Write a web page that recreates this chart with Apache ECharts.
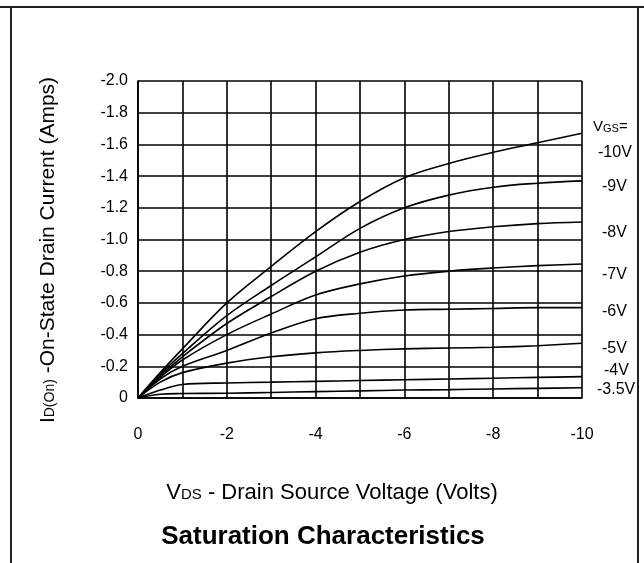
<!DOCTYPE html>
<html>
<head>
<meta charset="utf-8">
<script src="https://cdn.jsdelivr.net/npm/echarts@6/dist/echarts.min.js"></script>
<style>
html,body{margin:0;padding:0;background:#fff;}
#c{width:644px;height:563px;}
</style>
</head>
<body>
<div id="c"></div>
<script>
// Drain-source voltage samples (V)
var vds = [0, -0.5, -1, -2, -3, -4, -5, -6, -7, -8, -9, -10];
// Drain current (A) for each gate voltage
var id10  = [0, -0.16, -0.31, -0.60, -0.83, -1.05, -1.24, -1.39, -1.48, -1.55, -1.61, -1.67];
var id9   = [0, -0.15, -0.28, -0.52, -0.71, -0.89, -1.07, -1.20, -1.28, -1.33, -1.355, -1.37];
var id8   = [0, -0.14, -0.26, -0.47, -0.64, -0.80, -0.92, -1.00, -1.05, -1.08, -1.10, -1.11];
var id7   = [0, -0.13, -0.24, -0.40, -0.53, -0.65, -0.72, -0.77, -0.80, -0.82, -0.835, -0.845];
var id6   = [0, -0.12, -0.20, -0.30, -0.41, -0.50, -0.535, -0.555, -0.56, -0.565, -0.57, -0.57];
var id5   = [0, -0.10, -0.16, -0.22, -0.26, -0.285, -0.30, -0.31, -0.315, -0.32, -0.33, -0.345];
var id4   = [0, -0.05, -0.085, -0.095, -0.10, -0.105, -0.11, -0.115, -0.12, -0.125, -0.13, -0.135];
var id35  = [0, -0.024, -0.028, -0.03, -0.035, -0.04, -0.045, -0.05, -0.053, -0.057, -0.061, -0.065];
var curves = [id10, id9, id8, id7, id6, id5, id4, id35];
var curveNames = ['-10V', '-9V', '-8V', '-7V', '-6V', '-5V', '-4V', '-3.5V'];
var legendHead = 'V{s|GS}=';
var xTitle = 'V{s|DS} - Drain Source Voltage (Volts)';
var yTitle = 'I{s|D(On)} -On-State Drain Current (Amps)';
var chartTitle = 'Saturation Characteristics';

// label layout (pixel positions of the right-hand annotations)
var labelPos = [[598,153],[602,187],[602,233],[602,275],[602,312],[602,349],[604,371],[597,390]];

var FONT = '"Liberation Sans", Arial, sans-serif';
var chart = echarts.init(document.getElementById('c'), null, {renderer:'canvas'});

var series = curves.map(function (arr, k) {
  return {
    name: curveNames[k],
    type: 'line',
    smooth: 0.35,
    showSymbol: false,
    silent: true,
    lineStyle: {color: '#000', width: 1.6},
    data: vds.map(function (v, i) { return [v, arr[i]]; })
  };
});

var graphics = [
  {type:'line', shape:{x1:0,y1:7,x2:644,y2:7}, style:{stroke:'#222', lineWidth:2}},
  {type:'line', shape:{x1:11,y1:7,x2:11,y2:563}, style:{stroke:'#222', lineWidth:2}},
  {type:'line', shape:{x1:638,y1:7,x2:638,y2:563}, style:{stroke:'#222', lineWidth:2}},
  {type:'text', x:593, y:127, style:{text:legendHead, font:'15px '+FONT, fill:'#000', verticalAlign:'middle',
     rich:{s:{fontSize:11, fontFamily:FONT, fill:'#000', padding:[3,0,0,0]}}}},
  {type:'text', x:48, y:250, rotation:Math.PI/2,
     style:{text:yTitle, font:'21px '+FONT, fill:'#000', align:'center', verticalAlign:'middle',
     rich:{s:{fontSize:14, fontFamily:FONT, fill:'#000', padding:[4,0,0,0]}}}},
  {type:'text', x:332, y:493,
     style:{text:xTitle, font:'22px '+FONT, fill:'#000', align:'center', verticalAlign:'middle',
     rich:{s:{fontSize:15, fontFamily:FONT, fill:'#000', padding:[4,0,0,0]}}}},
  {type:'text', x:323, y:537,
     style:{text:chartTitle, font:'bold 26px '+FONT, fill:'#000', align:'center', verticalAlign:'middle'}}
];
curveNames.forEach(function (n, k) {
  graphics.push({type:'text', x:labelPos[k][0], y:labelPos[k][1],
    style:{text:n, font:'16px '+FONT, fill:'#000', verticalAlign:'middle'}});
});

chart.setOption({
  animation: false,
  backgroundColor: '#fff',
  grid: {left:138, top:81, right:62, bottom:165, show:false},
  xAxis: {
    type:'value', min:-10, max:0, interval:1, inverse:true,
    axisLine:{show:true, lineStyle:{color:'#000', width:1.6}},
    axisTick:{show:false},
    splitLine:{show:true, lineStyle:{color:'#000', width:1.6}},
    axisLabel:{color:'#000', fontFamily:FONT, fontSize:16, margin:29,
      formatter:function (v) { var r = Math.round(v); return (r % 2 === 0) ? String(r) : ''; }}
  },
  yAxis: {
    type:'value', min:-2, max:0, interval:0.2, inverse:true,
    axisLine:{show:true, lineStyle:{color:'#000', width:1.6}},
    axisTick:{show:false},
    splitLine:{show:true, lineStyle:{color:'#000', width:1.6}},
    axisLabel:{color:'#000', fontFamily:FONT, fontSize:16, margin:10,
      formatter:function (v) { return Math.abs(v) < 1e-9 ? '0' : v.toFixed(1); }}
  },
  graphic: graphics,
  series: series
});
</script>
</body>
</html>
